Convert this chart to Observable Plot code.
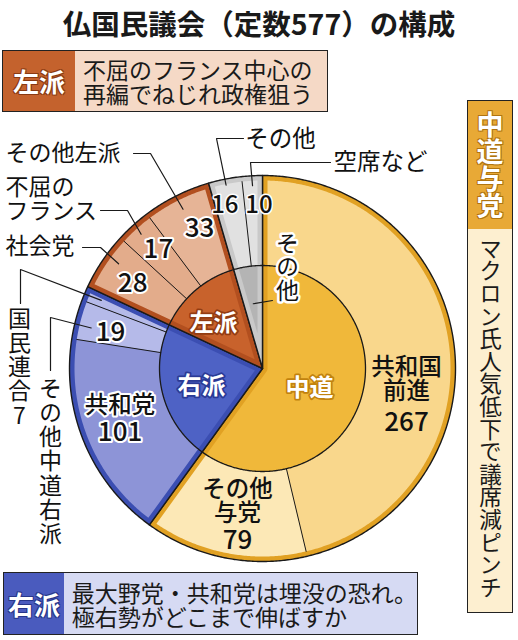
<!DOCTYPE html>
<html lang="ja">
<head>
<meta charset="utf-8">
<script src="https://cdn.jsdelivr.net/npm/d3@7"></script>
<script src="https://cdn.jsdelivr.net/npm/@observablehq/plot@0.6"></script>
<style>
html,body{margin:0;padding:0;background:#fff;}
body{font-family:"Noto Sans CJK JP","Noto Sans",sans-serif;color:#1a1a1a;}
#wrap{position:relative;width:518px;height:640px;overflow:hidden;}
#chart{position:absolute;left:0;top:0;width:518px;height:640px;}
#title{position:absolute;left:0;top:8px;width:518px;text-align:center;font-size:28.5px;font-weight:700;line-height:29px;white-space:nowrap;color:#1a1a1a;}
.box{position:absolute;display:flex;border:1.5px solid #222;box-sizing:border-box;}
.tag{display:flex;align-items:center;justify-content:center;color:#fff;font-weight:700;font-size:26px;line-height:1;}
.txt{display:flex;flex-direction:column;justify-content:center;font-size:23px;line-height:24px;padding-left:8px;white-space:nowrap;color:#1a1a1a;}
.vert{writing-mode:vertical-rl;}
</style>
</head>
<body>
<div id="wrap">
  <div id="chart"></div>
  <div id="title"></div>
  <div class="box" id="boxL" style="left:2px;top:50px;width:326px;height:62px;background:#F5D9C6;">
    <div class="tag" style="width:72px;background:#C4622D;text-shadow:1px 1px 0 #8A3A12,-1px -1px 0 #8A3A12,1px -1px 0 #8A3A12,-1px 1px 0 #8A3A12;"></div>
    <div class="txt"></div>
  </div>
  <div class="box" id="boxR" style="left:3px;top:572px;width:415px;height:63px;background:#D6DAF3;">
    <div class="tag" style="width:70px;background:#4A5BBE;text-shadow:1px 1px 0 #27368A,-1px -1px 0 #27368A,1px -1px 0 #27368A,-1px 1px 0 #27368A;"></div>
    <div class="txt"></div>
  </div>
  <div class="box" id="boxC" style="left:467px;top:100px;width:46px;height:513px;background:#FDEFD0;flex-direction:column;">
    <div class="tag vert" style="height:128px;width:100%;background:#E8A936;font-size:27px;text-shadow:1px 1px 0 #B07410,-1px -1px 0 #B07410,1px -1px 0 #B07410,-1px 1px 0 #B07410;"></div>
    <div class="txt vert" style="padding:8px 0 0 0;font-size:22.6px;line-height:44px;justify-content:flex-start;align-items:center;"></div>
  </div>
</div>
<script>
// ---------------- data ----------------
const titleText = "仏国民議会（定数577）の構成";
const parties = ["共和国前進","その他与党","共和党","その他中道右派","国民連合","社会党","不屈のフランス","その他左派","その他","空席など"];
const seats   = [267, 79, 101, 19, 7, 28, 17, 33, 16, 10];
const blocOf  = ["中道","中道","右派","右派","右派","左派","左派","左派","その他","その他"];
const blocs   = ["中道","右派","左派","その他"];
const noteLeft   = {tag:"左派",   lines:["不屈のフランス中心の","再編でねじれ政権狙う"]};
const noteRight  = {tag:"右派",   lines:["最大野党・共和党は埋没の恐れ。","極右勢がどこまで伸ばすか"]};
const noteCenter = {tag:"中道与党", lines:["マクロン氏人気低下で議席減ピンチ"]};

// ---------------- styles ----------------
const FONT = "'Noto Sans CJK JP', 'Noto Sans', sans-serif";
const partyColor = {"共和国前進":"#F9D78C","その他与党":"#FCE8B6","共和党":"#8D94D7","その他中道右派":"#B5BAE9","国民連合":"#B5BAE9",
  "社会党":"#E3AC8B","不屈のフランス":"#E3AC8B","その他左派":"#E6B496","その他":"#E1E1E1","空席など":"#E1E1E1"};
const blocInner = {"中道":"#F0B83A","右派":"#4E62C5","左派":"#C8622C","その他":"#B4B4B4"};
const blocBand  = {"中道":"#E1A123","右派":"#3B4EB2","左派":"#B24F1F","その他":"#C9C9C9"};
const blocHalo  = {"中道":"#C2830E","右派":"#2A3A96","左派":"#933C12"};

// ---------------- HTML annotations ----------------
document.getElementById("title").textContent = titleText;
function fillBox(id, note){
  const b = document.getElementById(id);
  b.querySelector(".tag").textContent = note.tag;
  b.querySelector(".txt").innerHTML = note.lines.map(l => `<div>${l}</div>`).join("");
}
fillBox("boxL", noteLeft); fillBox("boxR", noteRight); fillBox("boxC", noteCenter);

// ---------------- geometry from data ----------------
const R = 193, RIN = 103, D = 5;
const total = d3.sum(seats);
const rad = Math.PI / 180;
const P = (a, r) => ({x: r * Math.sin(a * rad), y: -r * Math.cos(a * rad)});
const asd = r => Math.asin(Math.min(1, D / r)) / rad;
const arc = (a0, a1, r) => { const n = Math.max(2, Math.ceil(Math.abs(a1 - a0) / 0.5)); return d3.range(n + 1).map(i => P(a0 + (a1 - a0) * i / n, r)); };

let cum = 0;
const slices = parties.map((p, i) => { const a0 = cum / total * 360; cum += seats[i]; return {party: p, seats: seats[i], bloc: blocOf[i], a0, a1: cum / total * 360}; });
const groups = blocs.map(b => { const s = slices.filter(d => d.bloc === b); return {bloc: b, a0: s[0].a0, a1: s[s.length - 1].a1}; });
const mid = s => (s.a0 + s.a1) / 2;

const polys = [];
const addPoly = (id, layer, fill, pts) => pts.forEach(p => polys.push({id, layer, fill, x: p.x, y: p.y}));

groups.forEach(g => addPoly("g" + g.bloc, 0, blocBand[g.bloc], [P(0, 0), ...arc(g.a0, g.a1, R), P(0, 0)]));

slices.forEach(s => {
  const g = groups.find(d => d.bloc === s.bloc);
  const si = s.a0 === g.a0, ei = s.a1 === g.a1;
  const ts = r => s.a0 + (si ? asd(r) : 0);
  const te = r => s.a1 - (ei ? asd(r) : 0);
  const RO = R - D;
  addPoly("s" + s.party, 1, partyColor[s.party], [P(ts(RIN), RIN), ...arc(ts(RO), te(RO), RO), ...arc(te(RIN), ts(RIN), RIN)]);
});

groups.forEach(g => {
  const phi = g.a1 - g.a0;
  let pts;
  if (phi < 180) {
    const rStop = D / Math.sin(phi / 2 * rad);
    pts = [P(g.a0 + asd(RIN), RIN), P(g.a0 + phi / 2, rStop), ...arc(g.a1 - asd(RIN), g.a0 + asd(RIN), RIN)];
  } else {
    pts = [P(g.a0 + asd(RIN), RIN), ...arc(g.a0 + 90, g.a1 - 90, D), ...arc(g.a1 - asd(RIN), g.a0 + asd(RIN), RIN)];
  }
  addPoly("i" + g.bloc, 2, blocInner[g.bloc], pts);
});

const seps = [];
slices.forEach(s => {
  const g = groups.find(d => d.bloc === s.bloc);
  if (s.a0 !== g.a0) [P(s.a0, RIN), P(s.a0, R - D)].forEach(p => seps.push({id: s.party, ...p}));
});
const innerCircle = arc(0, 360, RIN);

// ---------------- label placement ----------------
const ringLayout = {
  "共和国前進": {da: 11, r: 144.4, lines: "共和国\n前進", numDy: 43, halo: false},
  "その他与党": {da: -0.6, r: 135.3, lines: "その他\n与党", numDy: 39, halo: false},
  "共和党":     {da: 8, r: 147.2, lines: "共和党", numDy: 27, halo: true},
  "その他中道右派": {da: -1.5, r: 156.2, halo: true},
  "社会党":     {da: -0.6, r: 155.3, halo: true},
  "不屈のフランス": {da: 0.9, r: 158, halo: true},
  "その他左派": {da: 2.3, r: 153.5, halo: true},
  "その他":     {da: -1.8, r: 167, halo: true},
  "空席など":   {da: 1.9, r: 163, halo: true}
};
const ringNames = [], ringNums = [];
slices.forEach(s => {
  const L = ringLayout[s.party]; if (!L) return;
  const p = P(mid(s) + L.da, L.r);
  if (L.lines) {
    ringNames.push({...p, text: L.lines, halo: L.halo});
    ringNums.push({x: p.x, y: p.y + L.numDy, text: String(s.seats), halo: L.halo});
  } else ringNums.push({...p, text: String(s.seats), halo: L.halo, small: s.bloc === "その他"});
});

const blocLayout = {"中道": {da: 5, r: 51}, "右派": {da: -1.9, r: 63.6}, "左派": {da: -6.8, r: 66.5}};
const blocLabels = groups.filter(g => blocLayout[g.bloc]).map(g => ({...P(mid(g) + blocLayout[g.bloc].da, blocLayout[g.bloc].r), text: g.bloc, halo: blocHalo[g.bloc]}));

const ext = [
  {party: "その他左派", text: "その他左派", x: -257, y: -215, anchor: "start", lead: [[-129, -215], [-112, -215]], endDa: 0, endR: 178},
  {party: "不屈のフランス", text: "不屈の\nフランス", x: -257, y: -169, anchor: "start", lead: [[-162, -158], [-135, -158]], endDa: 0, endR: 181},
  {party: "社会党", text: "社会党", x: -257, y: -122, anchor: "start", lead: [[-180, -121], [-162, -121]], endDa: 2.2, endR: 178},
  {party: "国民連合", vertical: true, withSeats: true, x: -243, y: -62, lead: [[-242, -65], [-242, -99]], endDa: 0, endR: 175},
  {party: "その他中道右派", vertical: true, x: -212, y: 8, lead: [[-212, 2], [-212, -51]], endDa: -1.5, endR: 176},
  {party: "その他", text: "その他", x: 18, y: -229, anchor: "middle", lead: [[-19, -230], [-46, -230]], endDa: 0, endR: 187},
  {party: "空席など", text: "空席など", x: 118, y: -206, anchor: "middle", lead: [[68, -206], [-12, -206]], endDa: 0, endR: 183}
];
const extH = [], extV = [], leaders = [];
ext.forEach((e, k) => {
  const s = slices.find(d => d.party === e.party);
  if (e.vertical) extV.push({x: e.x, y: e.y, text: e.withSeats ? e.party + s.seats : e.party});
  else extH.push({x: e.x, y: e.y, text: e.text, anchor: e.anchor});
  const end = P(mid(s) + e.endDa, e.endR);
  [...e.lead.map(([x, y]) => ({x, y})), end].forEach(p => leaders.push({id: "L" + k, ...p}));
});
// inner "その他" bloc label (outside, vertical) with its leader
const gOther = groups.find(g => g.bloc === "その他");
const otherInner = [{x: 25, y: -137, text: gOther.bloc}];
[{x: 10, y: -68}, P(mid(gOther), 65.4)].forEach(p => leaders.push({id: "Lin", ...p}));

// ---------------- plot ----------------
const txt = {fontFamily: FONT};
const svg = Plot.plot({
  width: 518, height: 640, margin: 0,
  x: {domain: [-262, 256], range: [0, 518], axis: null},
  y: {domain: [-368, 272], range: [0, 640], axis: null},
  color: {type: "identity"},
  style: {background: "transparent", fontFamily: FONT},
  marks: [
    Plot.line(polys.filter(d => d.layer === 0), {x: "x", y: "y", z: "id", fill: "fill", stroke: "#1a1a1a", strokeWidth: 1.4, strokeLinejoin: "round"}),
    Plot.line(polys.filter(d => d.layer === 1), {x: "x", y: "y", z: "id", fill: "fill", stroke: "none"}),
    Plot.line(polys.filter(d => d.layer === 2), {x: "x", y: "y", z: "id", fill: "fill", stroke: "none"}),
    Plot.line(seps, {x: "x", y: "y", z: "id", stroke: "#1a1a1a", strokeWidth: 1}),
    Plot.line(innerCircle, {x: "x", y: "y", stroke: "#1a1a1a", strokeWidth: 1.3}),
    Plot.line(leaders, {x: "x", y: "y", z: "id", stroke: "#1a1a1a", strokeWidth: 1.2}),
    Plot.text(ringNames.filter(d => d.halo), {...txt, x: "x", y: "y", text: "text", fontSize: 23.5, lineHeight: 1.02, fill: "#111", stroke: "white", strokeWidth: 4, fontWeight: 500}),
    Plot.text(ringNames.filter(d => !d.halo), {...txt, x: "x", y: "y", text: "text", fontSize: 23.5, lineHeight: 1.02, fill: "#111", fontWeight: 500}),
    Plot.text(ringNums.filter(d => d.halo && !d.small), {...txt, x: "x", y: "y", text: "text", fontSize: 26, fill: "#111", stroke: "white", strokeWidth: 4, fontWeight: 500}),
    Plot.text(ringNums.filter(d => d.small), {...txt, x: "x", y: "y", text: "text", fontSize: 24, fill: "#111", stroke: "white", strokeWidth: 3, fontWeight: 500}),
    Plot.text(ringNums.filter(d => !d.halo), {...txt, x: "x", y: "y", text: "text", fontSize: 26, fill: "#111", fontWeight: 500}),
    Plot.text(blocLabels, {...txt, x: "x", y: "y", text: "text", fontSize: 24, fill: "white", stroke: "halo", strokeWidth: 3.5, fontWeight: 700}),
    Plot.text(extH.filter(d => d.anchor === "start"), {...txt, x: "x", y: "y", text: "text", fontSize: 23, lineHeight: 1.02, textAnchor: "start", fill: "#111"}),
    Plot.text(extH.filter(d => d.anchor === "middle"), {...txt, x: "x", y: "y", text: "text", fontSize: 23.5, textAnchor: "middle", fill: "#111"}),
    // the two vertical-label marks must stay the last two text marks
    Plot.text(extV, {...txt, x: "x", y: "y", text: "text", fontSize: 23, fill: "#111"}),
    Plot.text(otherInner, {...txt, x: "x", y: "y", text: "text", fontSize: 23, fill: "#111", stroke: "white", strokeWidth: 5})
  ]
});

// vertical (tategaki) writing for the vertical labels, positioned through the plot's scales
const sx = svg.scale("x"), sy = svg.scale("y");
const textGroups = Array.from(svg.querySelectorAll('g[aria-label="text"]'));
function makeVertical(group, data, spacing) {
  if (!group) return;
  group.setAttribute("text-anchor", "start");
  group.querySelectorAll("text").forEach((el, i) => {
    const d = data[i];
    el.removeAttribute("transform"); el.removeAttribute("dy");
    el.setAttribute("x", sx.apply(d.x)); el.setAttribute("y", sy.apply(d.y));
    el.setAttribute("text-anchor", "start");
    el.setAttribute("writing-mode", "vertical-rl");
    el.style.writingMode = "vertical-rl";
    el.style.textOrientation = "upright";
    el.style.textAnchor = "start";
    el.style.letterSpacing = spacing + "px";
  });
}
makeVertical(textGroups[textGroups.length - 2], extV, 1.2);
makeVertical(textGroups[textGroups.length - 1], otherInner, 0.7);
document.getElementById("chart").appendChild(svg);
</script>
</body>
</html>
